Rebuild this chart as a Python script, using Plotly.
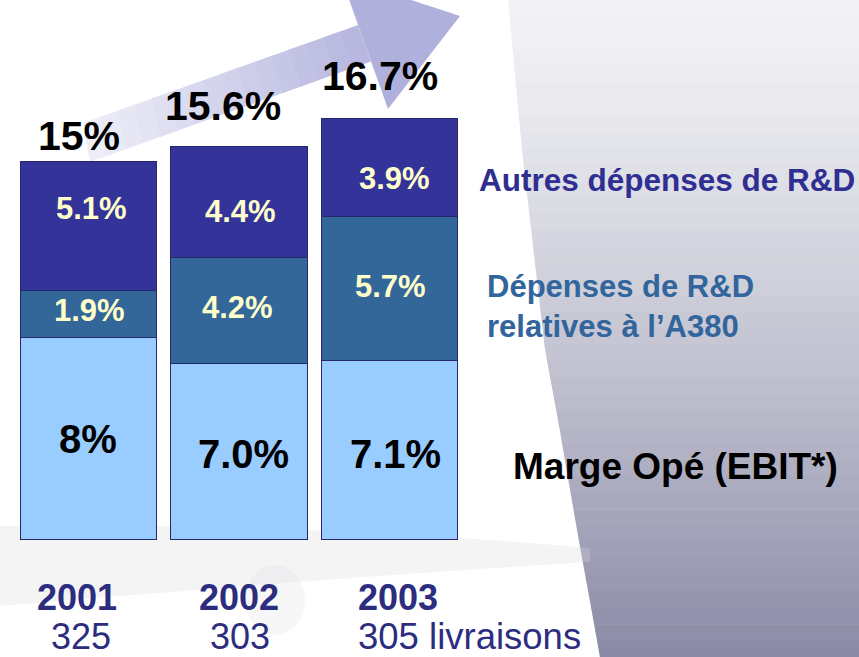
import numpy as np
import plotly.graph_objects as go

# ---- data ----
years = ["2001", "2002", "2003"]
deliveries = ["325", "303", "305 livraisons"]
ebit = [8.0, 7.0, 7.1]
a380 = [1.9, 4.2, 5.7]
autres = [5.1, 4.4, 3.9]
ebit_labels = ["8%", "7.0%", "7.1%"]
a380_labels = ["1.9%", "4.2%", "5.7%"]
autres_labels = ["5.1%", "4.4%", "3.9%"]
total_labels = ["15%", "15.6%", "16.7%"]
series_names = ["Marge Opé (EBIT*)", "Dépenses de R&D<br>relatives à l’A380", "Autres dépenses de R&D"]

W, H = 859, 657
FONT = "Liberation Sans, Arial, Helvetica, sans-serif"
C_LIGHT, C_MID, C_DARK = "#99CCFF", "#336699", "#333399"
NAVY = "#2D2D80"

def px(x):
    return x / W

def py(y):
    return 1 - y / H

x = list(range(len(years)))
fig = go.Figure()
for vals, col, name in [(ebit, C_LIGHT, series_names[0]), (a380, C_MID, series_names[1]), (autres, C_DARK, series_names[2])]:
    fig.add_trace(go.Bar(x=x, y=vals, marker=dict(color=col, line=dict(color="#27276e", width=1.5)),
                         width=0.905, name=name, hoverinfo="skip", showlegend=False))

ann = []
base = np.zeros(3)
label_sets = [
    (ebit, ebit_labels, "black", 40, [0, -2, -3], [-1, 4, 5]),
    (a380, a380_labels, "#FFFFCC", 31, [4, 3, 3], [0, -2, 0]),
    (autres, autres_labels, "#FFFFCC", 31, [18, -9, -10], [2, 1, 4]),
]
for vals, labs, col, size, ysh, xsh in label_sets:
    for i in range(3):
        ann.append(dict(x=x[i], y=base[i] + vals[i] / 2, text=labs[i], showarrow=False,
                        yshift=ysh[i], xshift=xsh[i],
                        font=dict(family=FONT, size=size, color=col, weight="bold"), xref="x", yref="y"))
    base = base + np.array(vals)
tot_xshift = [-10, -17, -10]
tot_yshift = [-3, 12, 14]
for i in range(3):
    ann.append(dict(x=x[i], y=base[i], text=total_labels[i], showarrow=False, yanchor="bottom",
                    xshift=tot_xshift[i], yshift=4 + tot_yshift[i],
                    font=dict(family=FONT, size=41, color="black", weight="bold")))

# year / deliveries labels
yr_shift = [-12, -1, 8]
for i in range(3):
    ann.append(dict(x=x[i], y=0, yref="y", yshift=-57, xshift=yr_shift[i], text=years[i], showarrow=False,
                    font=dict(family=FONT, size=36, color=NAVY, weight="bold")))
for i in range(3):
    if i < 2:
        ann.append(dict(x=x[i], y=0, yref="y", yshift=-96, xshift=-8 if i == 0 else 0, text=deliveries[i], showarrow=False,
                        font=dict(family=FONT, size=36, color=NAVY)))
    else:
        ann.append(dict(x=x[i], y=0, yref="y", yshift=-96, xshift=-34, xanchor="left", text=deliveries[i], showarrow=False,
                        font=dict(family=FONT, size=36.5, color=NAVY)))

# legend-like labels on the right
ann.append(dict(xref="paper", yref="paper", x=px(477), y=py(180), xanchor="left", yanchor="middle",
                text=series_names[2], showarrow=False, font=dict(family=FONT, size=31.5, color="#2F2F92", weight="bold")))
ann.append(dict(xref="paper", yref="paper", x=px(485), y=py(306), xanchor="left", yanchor="middle", align="left",
                text=series_names[1], showarrow=False, font=dict(family=FONT, size=31, color="#31659C", weight="bold")))
ann.append(dict(xref="paper", yref="paper", x=px(511), y=py(466), xanchor="left", yanchor="middle",
                text=series_names[0], showarrow=False, font=dict(family=FONT, size=37, color="black", weight="bold")))

shapes = []
# right-side gradient background
cy = [0, 150, 350, 420, 530, 657]
cx = [508, 522, 545, 558, 577, 600]
top_c = np.array([243, 243, 246])
bot_c = np.array([138, 138, 166])
N = 40
for k in range(N):
    y0, y1 = H * k / N, H * (k + 1) / N + 0.6
    x0, x1 = np.interp(y0, cy, cx), np.interp(y1, cy, cx)
    t = (k + 0.5) / N
    c = top_c + (bot_c - top_c) * t ** 1.3
    path = f"M {px(x0)},{py(y0)} L {px(W+2)},{py(y0)} L {px(W+2)},{py(y1)} L {px(x1)},{py(y1)} Z"
    shapes.append(dict(type="path", path=path, xref="paper", yref="paper", layer="below",
                       fillcolor=f"rgb({int(c[0])},{int(c[1])},{int(c[2])})", line=dict(width=0)))

# faint aircraft silhouette
shapes.append(dict(type="path", xref="paper", yref="paper", layer="below",
                   path=f"M {px(0)},{py(526)} Q {px(300)},{py(522)} {px(590)},{py(548)} L {px(590)},{py(562)} Q {px(300)},{py(580)} {px(0)},{py(606)} Z",
                   fillcolor="rgba(215,215,220,0.28)", line=dict(width=0)))
shapes.append(dict(type="circle", xref="paper", yref="paper", layer="below",
                   x0=px(245), x1=px(305), y0=py(565), y1=py(635), fillcolor="rgba(215,215,220,0.2)", line=dict(width=0)))

# arrow (gradient shaft + head)
tail_top, tail_bot = np.array([83, 123]), np.array([90, 162])
in_top, in_bot = np.array([358, 25]), np.array([371, 61.5])
c0, c1 = np.array([240, 240, 249]), np.array([182, 182, 224])
M = 16
for k in range(M):
    a, b = k / M, (k + 1.05) / M
    p1 = tail_top + (in_top - tail_top) * a
    p2 = tail_top + (in_top - tail_top) * min(b, 1)
    p3 = tail_bot + (in_bot - tail_bot) * min(b, 1)
    p4 = tail_bot + (in_bot - tail_bot) * a
    c = c0 + (c1 - c0) * (k + 0.5) / M
    path = (f"M {px(p1[0])},{py(p1[1])} L {px(p2[0])},{py(p2[1])} L {px(p3[0])},{py(p3[1])} "
            f"L {px(p4[0])},{py(p4[1])} Z")
    shapes.append(dict(type="path", path=path, xref="paper", yref="paper", layer="below",
                       fillcolor=f"rgb({int(c[0])},{int(c[1])},{int(c[2])})", line=dict(width=0)))
head = [(341, -23), (460, 16), (388, 109)]
shapes.append(dict(type="path", xref="paper", yref="paper", layer="below",
                   path=f"M {px(head[0][0])},{py(head[0][1])} L {px(head[1][0])},{py(head[1][1])} L {px(head[2][0])},{py(head[2][1])} Z",
                   fillcolor="rgb(176,176,220)", line=dict(width=0)))

fig.update_layout(
    width=W, height=H, margin=dict(l=0, r=0, t=0, b=0),
    paper_bgcolor="white", plot_bgcolor="rgba(0,0,0,0)",
    barmode="stack", bargap=0,
    xaxis=dict(range=[-0.5914, 5.116], visible=False, fixedrange=True),
    yaxis=dict(range=[-4.643, 21.43], visible=False, fixedrange=True),
    annotations=ann, shapes=shapes, showlegend=False,
)
fig.write_html("out.html", config={"displayModeBar": False},
               post_script="document.body.style.margin='0';document.body.style.overflow='hidden';")
